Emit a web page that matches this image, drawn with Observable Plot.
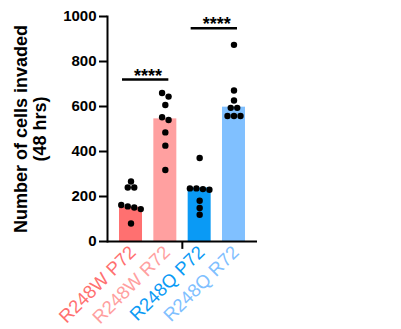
<!DOCTYPE html>
<html>
<head>
<meta charset="utf-8">
<script src="https://cdn.jsdelivr.net/npm/d3@7"></script>
<script src="https://cdn.jsdelivr.net/npm/@observablehq/plot@0.6"></script>
<style>
  html, body { margin: 0; padding: 0; background: #fff; }
</style>
</head>
<body>
<div id="chart"></div>
<script>
// ---- data ----
const groups = ["R248W P72", "R248W R72", "R248Q P72", "R248Q R72"];
const colors = ["#ff7070", "#ffa0a0", "#0a9af5", "#80c0ff"];
const medians = [152, 545, 238, 597];
const pointsP72W = [267, 240, 240, 162, 156, 151, 144, 80];
const pointsR72W = [660, 644, 607, 552, 540, 485, 426, 318];
const pointsP72Q = [371, 236, 236, 233, 230, 181, 149, 119];
const pointsR72Q = [874, 671, 627, 594, 594, 558, 558, 558];
const yTicks = [0, 200, 400, 600, 800, 1000];
const yTitle = "Number of cells invaded\n(48 hrs)";
const sigLabel = "****";
const sigPairs = [
  {a: "R248W P72", b: "R248W R72", y: 720},
  {a: "R248Q P72", b: "R248Q R72", y: 948}
];

const pointSets = [pointsP72W, pointsR72W, pointsP72Q, pointsR72Q];
const bars = groups.map((g, i) => ({g, v: medians[i]}));
const pts = groups.flatMap((g, i) => pointSets[i].map(v => ({g, v})));

// GraphPad-like scatter: points at similar heights are laid out in symmetric rows
function swarm(options, r = 3, gap = 6.5) {
  return Plot.initializer(options, (data, facets, channels, scales) => {
    const G = channels.x.value, V = channels.y.value;
    const n = G.length;
    const X = new Float64Array(n), Y = new Float64Array(n);
    for (const I of facets) {
      const byGroup = d3.group(I, i => G[i]);
      for (const [g, idx] of byGroup) {
        const x0 = scales.x(g);
        const sorted = Array.from(idx).sort((a, b) => scales.y(V[a]) - scales.y(V[b]));
        let row = [];
        const flush = () => {
          row.forEach((i, j) => { X[i] = x0 + (j - (row.length - 1) / 2) * gap; });
          row = [];
        };
        for (const i of sorted) {
          Y[i] = scales.y(V[i]);
          if (row.length && Y[i] - Y[row[0]] >= 2 * r) flush();
          row.push(i);
        }
        flush();
      }
    }
    return {data, facets, channels: {x: {value: X}, y: {value: Y}}};
  });
}

const font = "'Liberation Sans', Arial, Helvetica, sans-serif";

const chart = Plot.plot({
  width: 401,
  height: 329,
  marginLeft: 107,
  marginRight: 144,
  marginTop: 16,
  marginBottom: 88,
  style: {fontFamily: font, background: "#fff", overflow: "visible"},
  x: {domain: groups, paddingInner: 0.33, paddingOuter: 0.35, round: false, axis: null},
  y: {domain: [0, 1000], axis: null},
  color: {domain: groups, range: colors},
  marks: [
    Plot.barY(bars, {x: "g", y: "v", fill: "g"}),
    Plot.dot(pts, swarm({x: "g", y: "v", r: 3.2, fill: "black", stroke: "none"})),
    Plot.ruleY([0], {stroke: "black", strokeWidth: 2}),
    Plot.frame({anchor: "left", stroke: "black", strokeWidth: 2}),
    Plot.axisY({
      ticks: yTicks, tickFormat: d => String(d), tickSize: 8, tickPadding: 3, strokeWidth: 2,
      fontSize: 15, fontWeight: "bold", fill: "black", label: null
    }),
    Plot.ruleX([groups[1]], {x: d => d, y1: 0, y2: -35, stroke: "black", strokeWidth: 2, dx: 17}),
    Plot.text(groups, {
      x: d => d, frameAnchor: "bottom", rotate: -45, textAnchor: "end",
      fill: d => d, fontSize: 18.5, dx: 6, dy: 12
    }),
    Plot.text([yTitle], {
      frameAnchor: "left", rotate: -90, textAnchor: "middle", lineAnchor: "middle",
      dx: -77, fontSize: 18, fontWeight: "bold", lineHeight: 1.05, fill: "black"
    }),
    Plot.ruleY(sigPairs, {x1: "a", x2: "b", y: "y", stroke: "black", strokeWidth: 2.5, insetLeft: 3, insetRight: 8}),
    Plot.text(sigPairs, {x: "a", y: "y", text: () => sigLabel, dx: 17, dy: 2, lineAnchor: "bottom", fontSize: 18, fontWeight: "bold", fill: "black"})
  ]
});

document.getElementById("chart").appendChild(chart);
</script>
</body>
</html>
